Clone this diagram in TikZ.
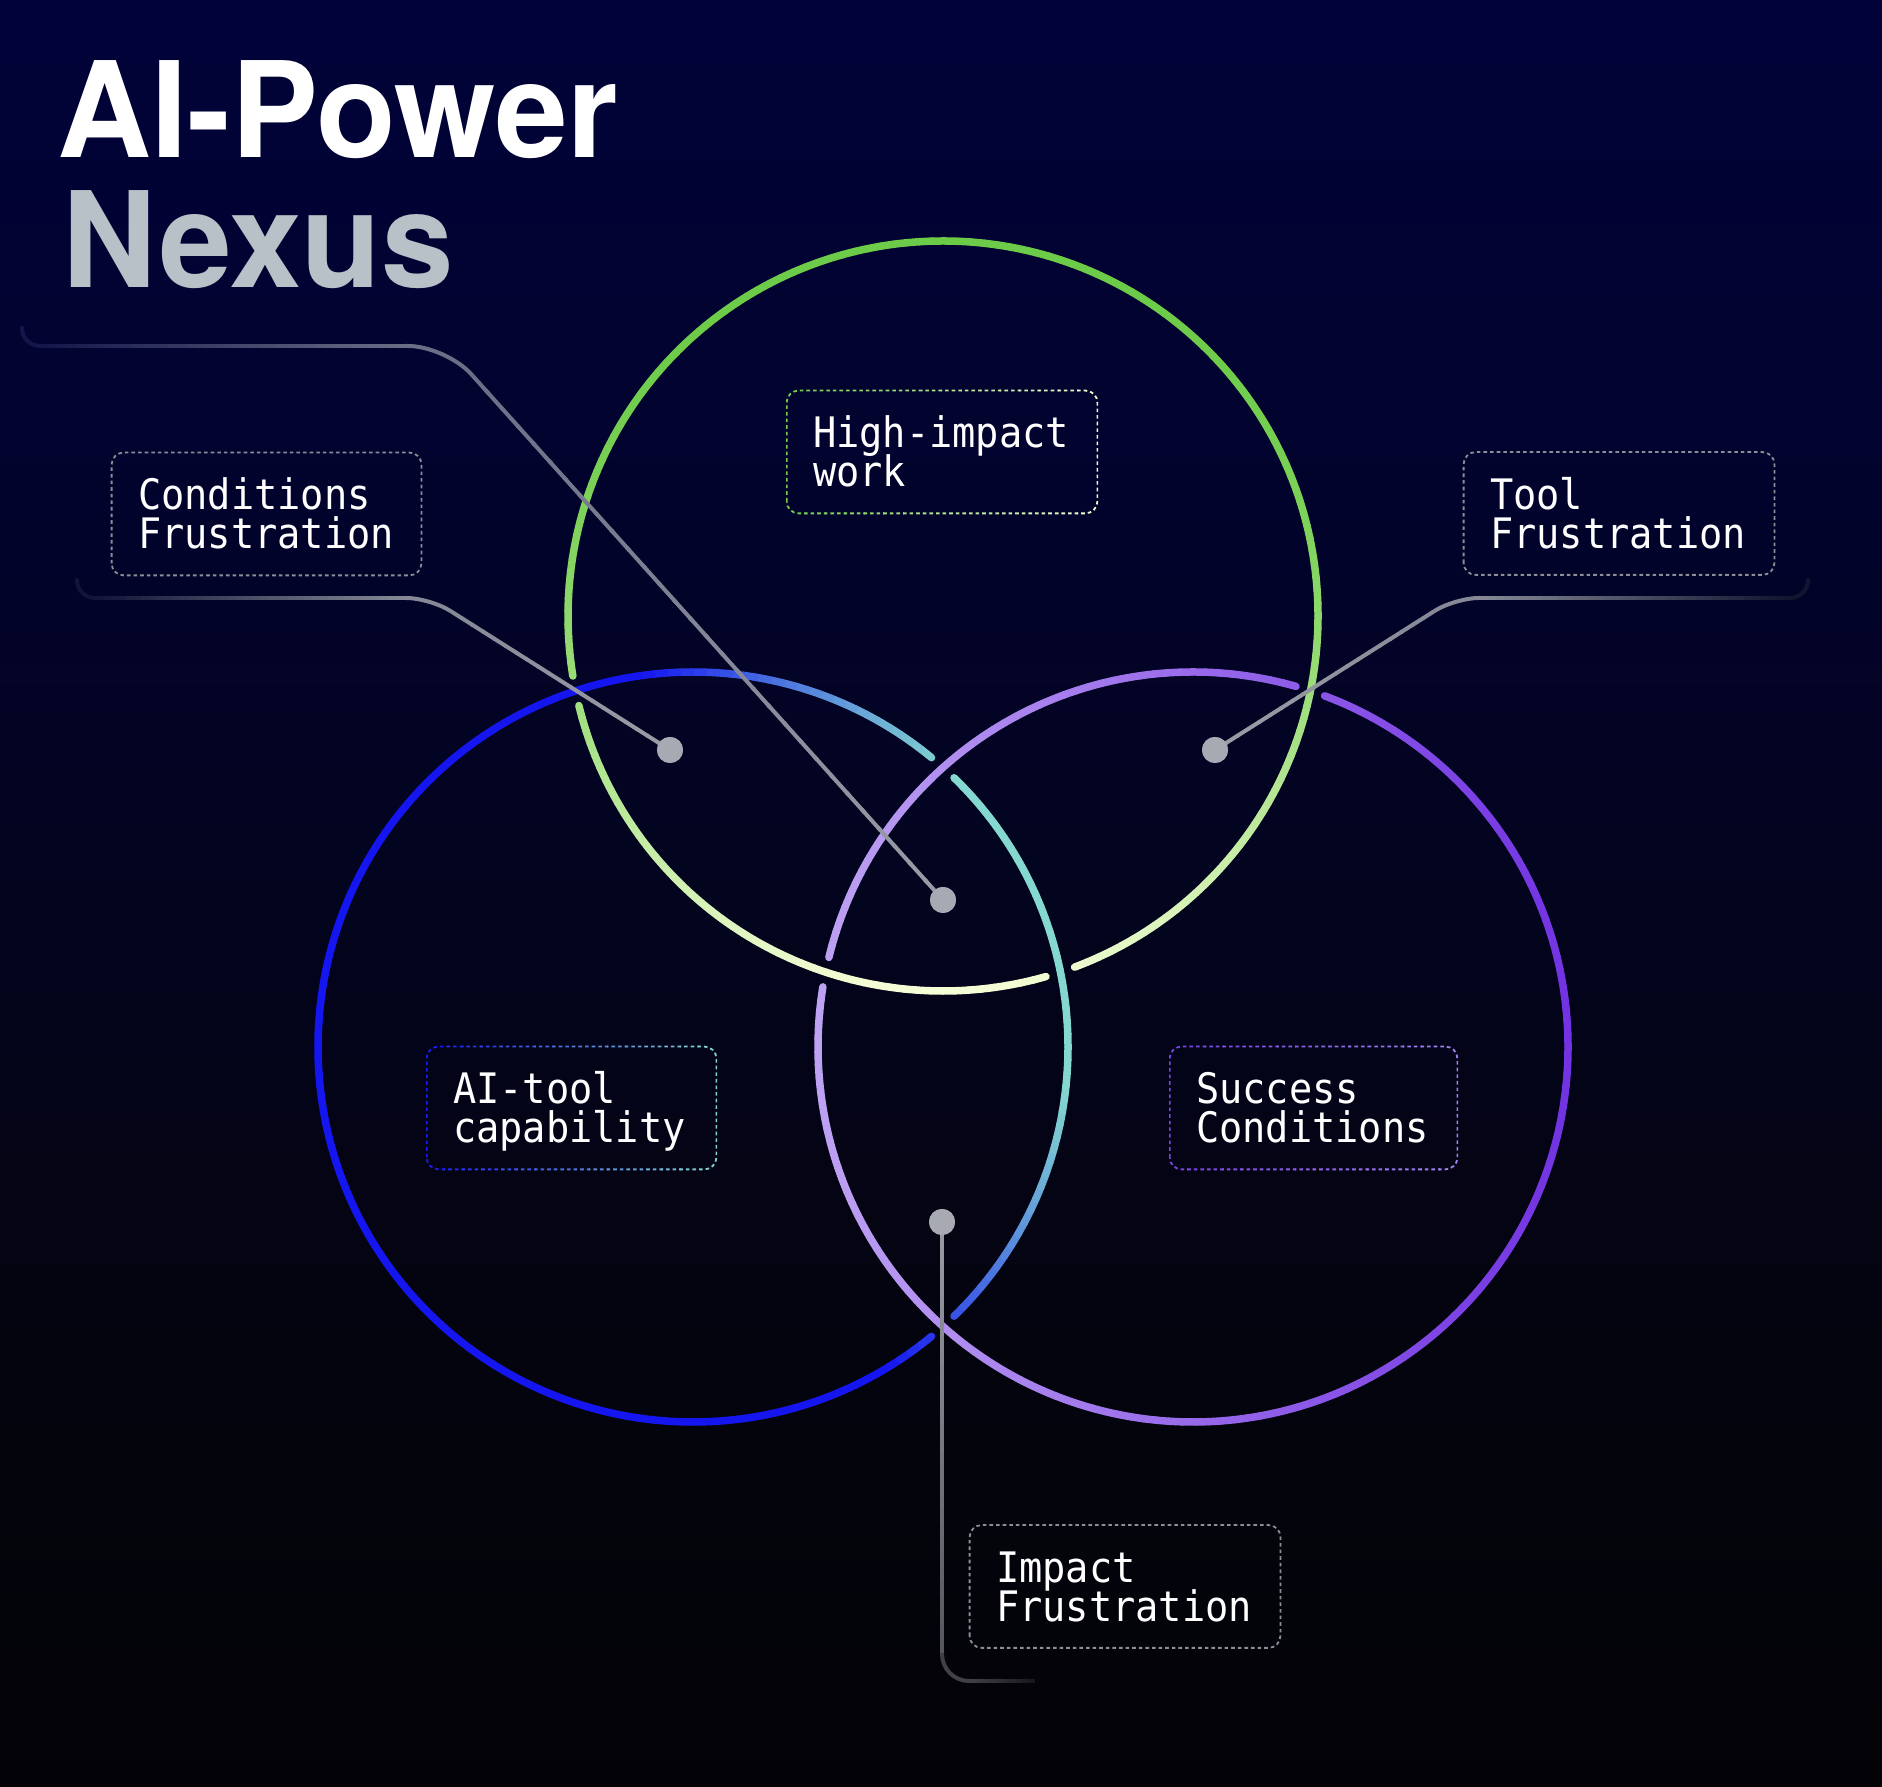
\documentclass[tikz,border=0pt]{standalone}
\usepackage{fontspec}
\usetikzlibrary{calc}
\newfontfamily\ttlfont{TeX Gyre Heros}[FakeStretch=0.98]
\newfontfamily\lblfont{DejaVu Sans Mono}[FakeStretch=0.92]

\definecolor{cgreen}{HTML}{6BCB47}
\definecolor{cpale}{HTML}{F4FDD6}
\definecolor{cblue}{HTML}{1515F0}
\definecolor{cteal}{HTML}{84D8CF}
\definecolor{clav}{HTML}{BEA2F2}
\definecolor{cpur}{HTML}{7233E2}
\definecolor{dotc}{HTML}{A7AAB3}
\definecolor{boxgray}{HTML}{8C8D95}
\definecolor{nexusc}{HTML}{B9C1C8}
\definecolor{bg0}{RGB}{3,3,7}
\definecolor{bg1}{RGB}{4,4,15}
\definecolor{bg2}{RGB}{3,4,30}
\definecolor{bg3}{RGB}{2,3,46}
\definecolor{bg4}{RGB}{1,2,56}
\definecolor{lnA}{HTML}{9A9DA6}
\definecolor{lnT}{HTML}{6C6E86}
\definecolor{lnTe}{HTML}{14164A}
\definecolor{lnC}{HTML}{878A96}
\definecolor{lnCe}{HTML}{121438}
\definecolor{lnRe}{HTML}{121430}
\definecolor{lnI}{HTML}{55575D}
\definecolor{lnIc}{HTML}{404146}
\definecolor{lnIe}{HTML}{17171B}
\definecolor{sclL}{HTML}{7A40E4}
\definecolor{sclR}{HTML}{A384F0}

\pgfdeclareverticalshading{bgsh}{100bp}{color(0bp)=(bg0); color(25bp)=(bg0); color(37.5bp)=(bg1); color(50bp)=(bg2); color(62.5bp)=(bg3); color(75bp)=(bg4); color(100bp)=(bg4)}

% ring colour functions (angle in \angM)
\def\ringcolG{\pgfmathsetmacro\sinv{sin(\angM)}\pgfmathtruncatemacro\mixp{75+50*\sinv-25*\sinv*\sinv}\edef\ringcolor{cgreen!\mixp!cpale}}
\def\ringcolB{\pgfmathsetmacro\sinv{cos(\angM-20)}\pgfmathtruncatemacro\mixp{100*max(0,min(1,(\sinv-0.2)/0.7))}\edef\ringcolor{cteal!\mixp!cblue}}
\def\ringcolP{\pgfmathsetmacro\sinv{cos(\angM)}\pgfmathtruncatemacro\mixp{50-50*\sinv}\edef\ringcolor{clav!\mixp!cpur}}

\newcommand\ringarc[4]{%
  \pgfmathtruncatemacro\nseg{max(1,round(abs(#3-#2)/2))}%
  \pgfmathsetmacro\angS{(#3-#2)/\nseg}%
  \foreach \k in {1,...,\nseg}{%
    \pgfmathsetmacro\angA{#2+(\k-1)*\angS}%
    \pgfmathsetmacro\angB{#2+\k*\angS}%
    \pgfmathsetmacro\angM{(\angA+\angB)/2}%
    \csname ringcol#4\endcsname
    \draw[ring,color=\ringcolor] ($(#1)+(\angA:375)$) arc[start angle=\angA,end angle=\angB,radius=375];
  }}

\newcommand\fline[5]{%
  \foreach \k in {1,...,#5}{%
    \pgfmathsetmacro\fta{(\k-1)/#5}%
    \pgfmathsetmacro\ftb{min(1,\k/#5+0.006)}%
    \pgfmathtruncatemacro\mixp{100-100*(\k-0.5)/#5}%
    \draw[conn,color=#3!\mixp!#4] ($(#1)!\fta!(#2)$) -- ($(#1)!\ftb!(#2)$);
  }}

\newcommand\gradborder[3]{%
  \foreach \k in {0,...,15}{%
    \pgfmathtruncatemacro\mixp{100-100*(\k+0.5)/16}%
    \pgfmathsetmacro\fta{\k/16}%
    \pgfmathsetmacro\ftb{(\k+1)/16}%
    \begin{scope}
      \clip ($(#1.south west)!\fta!(#1.south east)+(-0.6,-10)$) rectangle ($(#1.north west)!\ftb!(#1.north east)+(0.6,10)$);
      \draw[boxline,color=#2!\mixp!#3] (#1.south west) rectangle (#1.north east);
    \end{scope}}}

\begin{document}
\begin{tikzpicture}[x=0.5pt,y=0.5pt,
  ring/.style={line width=3.75pt,line cap=round},
  conn/.style={line width=2pt,line cap=butt},
  connend/.style={line width=2pt,line cap=round},
  dot/.style={circle,fill=dotc,inner sep=0pt,minimum size=13pt},
  lbl/.style={inner xsep=13pt,inner ysep=0pt,align=left,text=white,
     font={\lblfont\fontsize{21}{19.5}\selectfont\lineskiplimit=-100pt},
     text height=28.5pt,text depth=32.5pt},
  boxline/.style={line width=0.9pt,dash pattern=on 1.8pt off 1.5pt,rounded corners=6pt},
  ttl/.style={anchor=base west,inner sep=0pt,font={\ttlfont\bfseries\fontsize{66.5}{66.5}\selectfont}}
]
\useasboundingbox (0,0) rectangle (1882,1786);
\shade[shading=bgsh] (0,0) rectangle (1882,1786);

% rings
\coordinate (G) at (943,1170);
\coordinate (B) at (693,739);
\coordinate (P) at (1193,739);
\ringarc{G}{193.82}{285.94}{G}
\ringarc{G}{290.54}{360}{G}
\ringarc{G}{0}{189.22}{G}
\ringarc{B}{-45.89}{45.89}{B}
\ringarc{B}{50.49}{309.51}{B}
\ringarc{P}{74.06}{166.18}{P}
\ringarc{P}{170.78}{360}{P}
\ringarc{P}{0}{69.46}{P}

% title
\node[ttl,text=white] (t1) at (57,1628) {AI-Power};
\node[ttl,text=nexusc] (t2) at (62,1498) {Nexus};

% labels
\node[lbl,text width=128.5pt] (cf) at (266.5,1272) {Conditions\\Frustration};
\node[lbl,text width=129pt] (hi) at (942,1334) {High-impact\\work};
\node[lbl,text width=129pt] (tf) at (1619,1272.5) {Tool\\Frustration};
\node[lbl,text width=118.5pt] (ai) at (571.5,678) {AI-tool\\capability};
\node[lbl,text width=117.5pt] (sc) at (1313.5,678) {Success\\Conditions};
\node[lbl,text width=129pt] (imf) at (1125,199.5) {Impact\\Frustration};

\draw[boxline,boxgray] (cf.south west) rectangle (cf.north east);
\draw[boxline,boxgray] (tf.south west) rectangle (tf.north east);
\draw[boxline,boxgray] (imf.south west) rectangle (imf.north east);
\gradborder{hi}{cgreen}{cpale}
\gradborder{ai}{cblue}{cteal}
\gradborder{sc}{sclL}{sclR}

% dots
\node[dot] (dT) at (943,886) {};
\node[dot] (dC) at (670,1036) {};
\node[dot] (dR) at (1215,1036) {};
\node[dot] (dI) at (942,564) {};

% title connector
\coordinate (tA) at (472.7,1410.2);
\coordinate (tV) at (446,1440);
\coordinate (tB) at (406,1440);
\coordinate (tH) at (40,1440);
\coordinate (tL) at (22,1440);
\coordinate (tE) at (22,1458);
\fline{dT}{tA}{lnA}{lnT}{30}
\draw[conn,lnT,rounded corners=19pt] (tA) -- (tV) -- (tB);
\fline{tB}{tH}{lnT}{lnTe}{40}
\draw[connend,lnTe,rounded corners=9pt] (tH) -- (tL) -- (tE);

% conditions connector
\coordinate (cA) at (451.1,1174.6);
\coordinate (cV) at (430,1188);
\coordinate (cB) at (405,1188);
\coordinate (cH) at (95,1188);
\coordinate (cL) at (77,1188);
\coordinate (cE) at (77,1206);
\fline{dC}{cA}{lnA}{lnC}{20}
\draw[conn,lnC,rounded corners=12pt] (cA) -- (cV) -- (cB);
\fline{cB}{cH}{lnC}{lnCe}{40}
\draw[connend,lnCe,rounded corners=9pt] (cH) -- (cL) -- (cE);

% tool connector
\coordinate (rA) at (1433.9,1174.6);
\coordinate (rV) at (1455,1188);
\coordinate (rB) at (1480,1188);
\coordinate (rH) at (1790,1188);
\coordinate (rL) at (1808,1188);
\coordinate (rE) at (1808,1206);
\fline{dR}{rA}{lnA}{lnC}{20}
\draw[conn,lnC,rounded corners=12pt] (rA) -- (rV) -- (rB);
\fline{rB}{rH}{lnC}{lnRe}{40}
\draw[connend,lnRe,rounded corners=9pt] (rH) -- (rL) -- (rE);

% impact connector
\coordinate (iA) at (942,133);
\coordinate (iV) at (942,105);
\coordinate (iB) at (970,105);
\coordinate (iE) at (1035,105);
\fline{dI}{iA}{lnA}{lnI}{30}
\draw[conn,lnIc,rounded corners=13.5pt] (iA) -- (iV) -- (iB);
\fline{iB}{iE}{lnIc}{lnIe}{10}

% redraw dots on top
\fill[dotc] (dT) circle[radius=6.5pt];
\fill[dotc] (dC) circle[radius=6.5pt];
\fill[dotc] (dR) circle[radius=6.5pt];
\fill[dotc] (dI) circle[radius=6.5pt];
\end{tikzpicture}
\end{document}
